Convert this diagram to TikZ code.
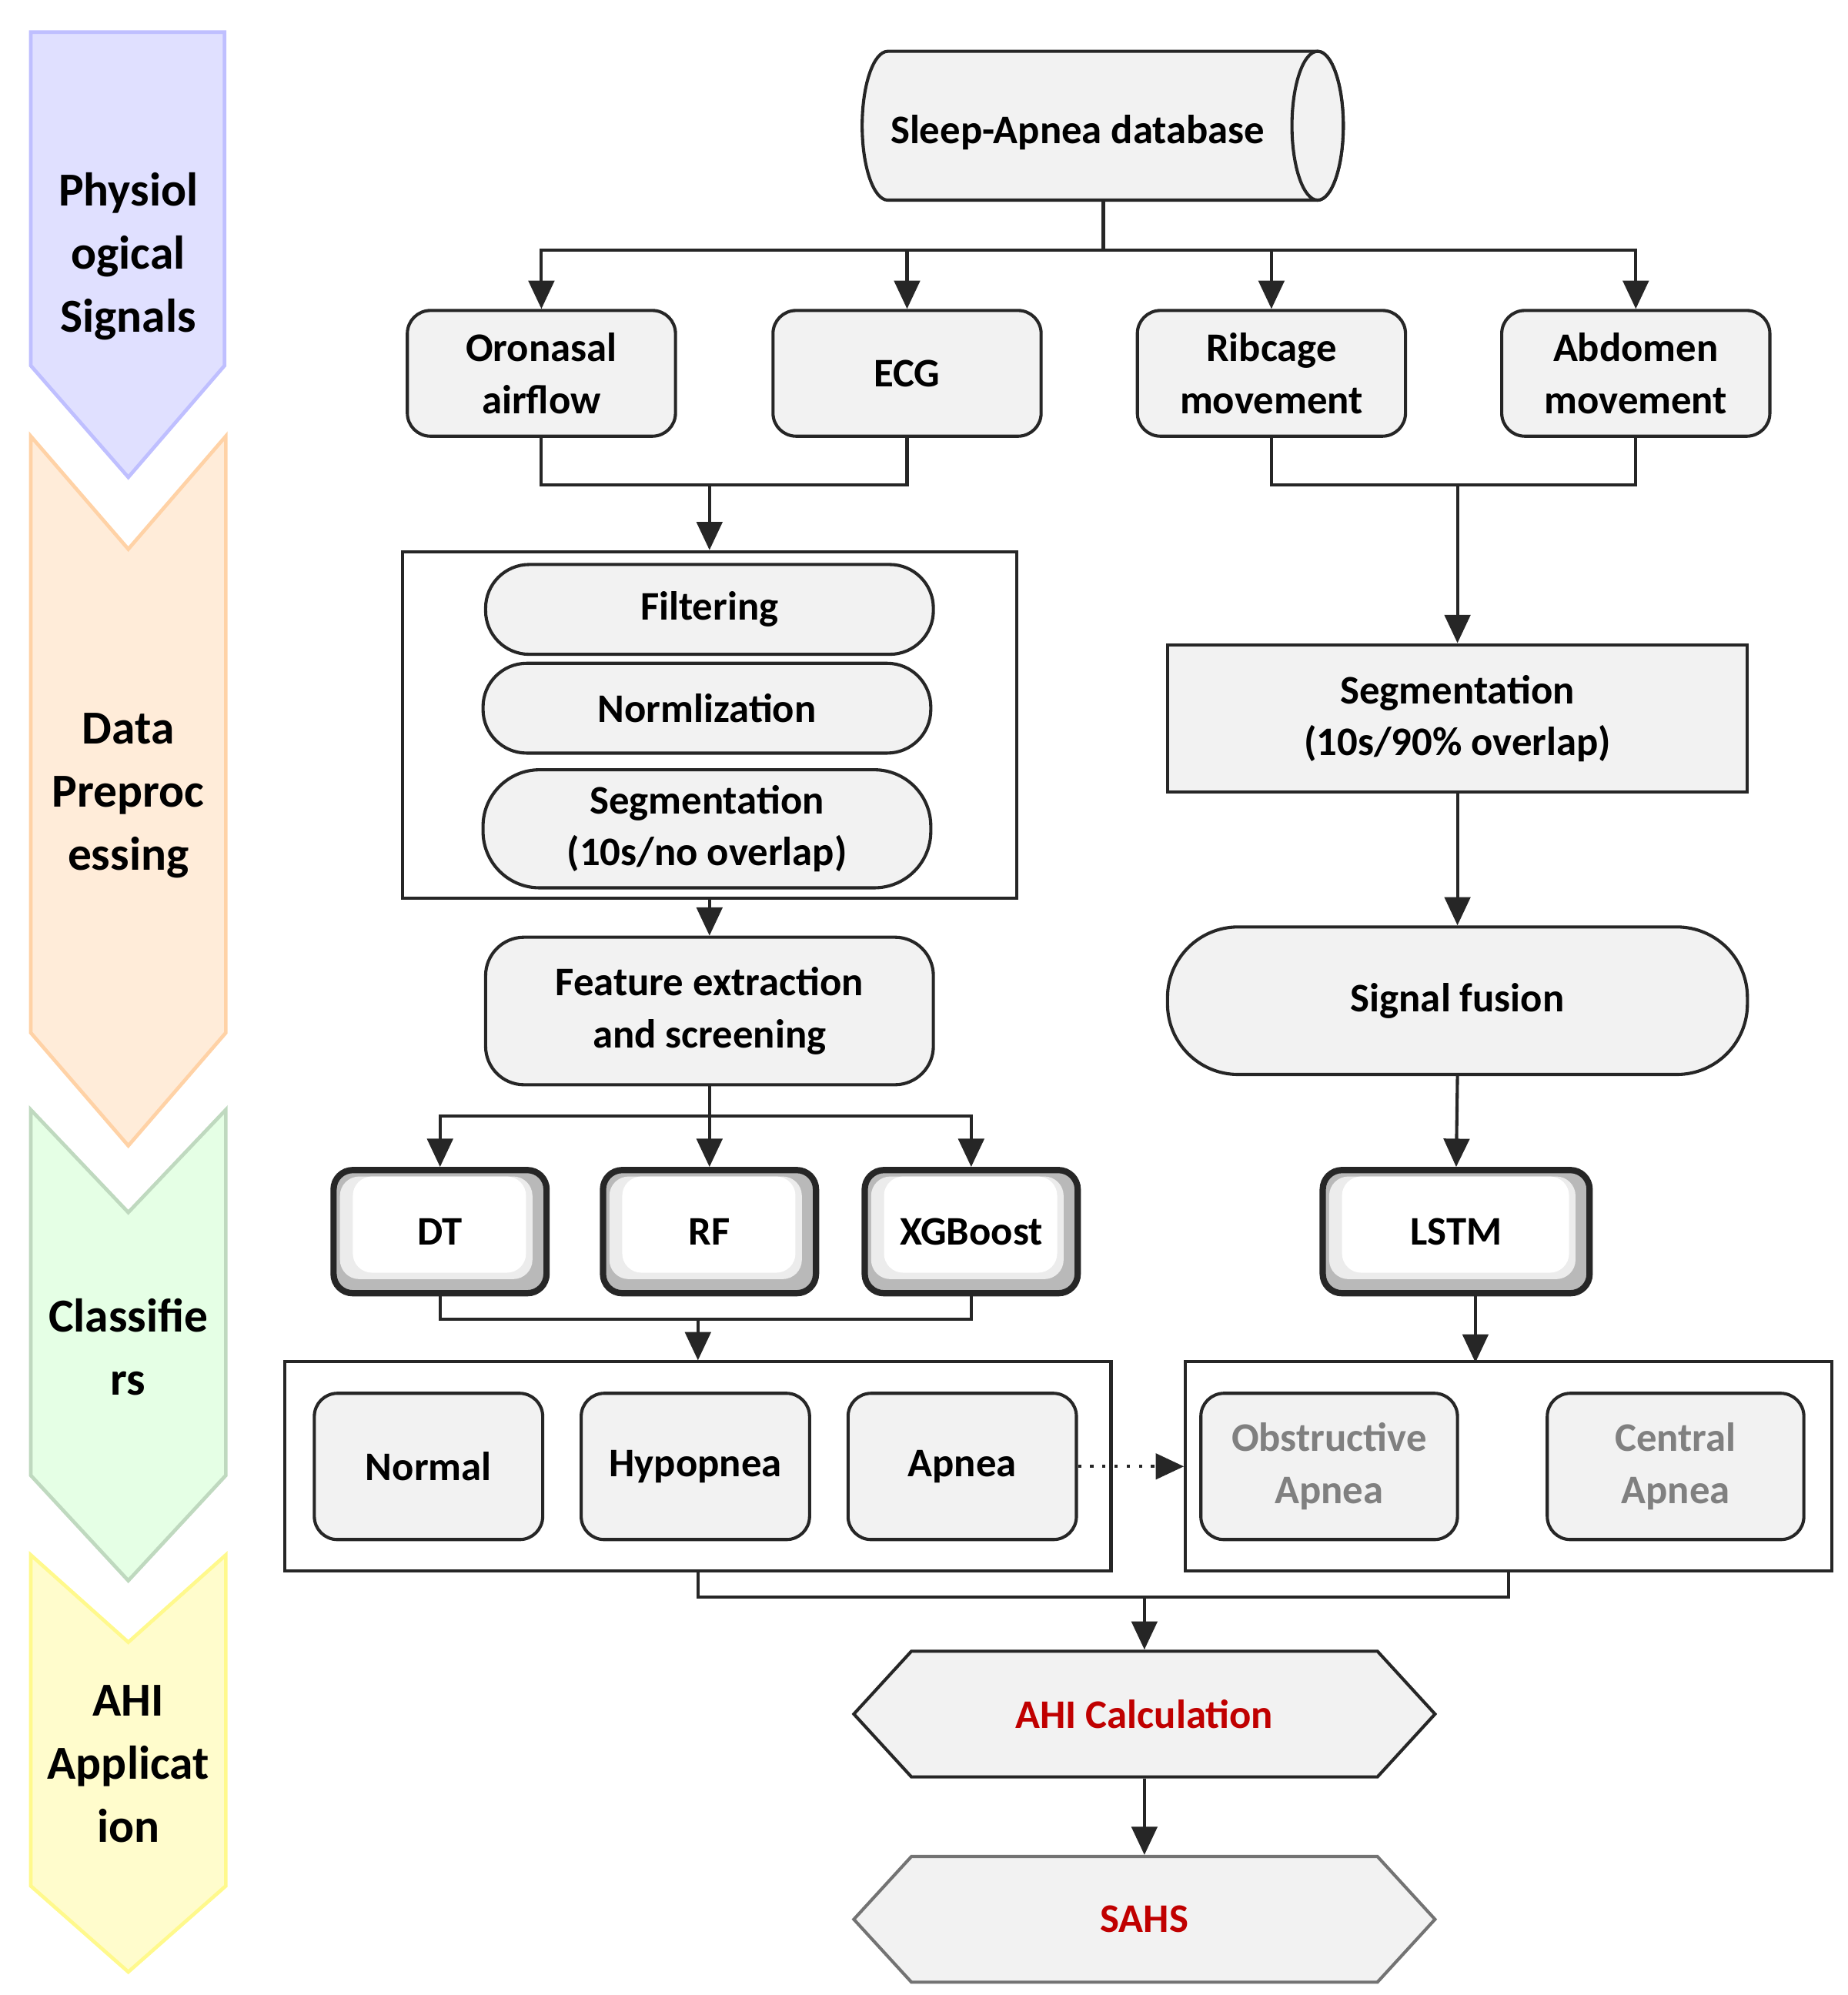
\documentclass[tikz,border=0pt]{standalone}
\usepackage{fontspec}
\setmainfont{Carlito}
\usetikzlibrary{shapes.symbols,arrows.meta}
\definecolor{boxfill}{HTML}{F2F2F2}
\definecolor{ahired}{HTML}{C00000}
\tikzset{
  arr/.style={-{Triangle[length=2.2mm,width=2mm]}},
  line/.style={line width=0.7pt, draw=black!85},
  box/.style={line, fill=boxfill, rounded corners=1.8mm, align=center, font=\fontsize{9}{11.5}\selectfont\bfseries, minimum width=209*0.1mm, minimum height=98*0.1mm},
  pill/.style={box, rounded corners=3.4mm, minimum width=349*0.1mm, minimum height=70*0.1mm},
  bevel/.style={line, line width=1.4pt, rounded corners=1.5mm, font=\fontsize{9}{11.5}\selectfont\bfseries, minimum width=166*0.1mm, minimum height=96*0.1mm,
    path picture={\fill[gray!55] (path picture bounding box.south west) rectangle (path picture bounding box.north east);
      \fill[gray!15] ([shift={(0.5mm,-0.5mm)}]path picture bounding box.north west) rectangle ([shift={(-1.1mm,1.1mm)}]path picture bounding box.south east);
      \fill[white] ([shift={(1.5mm,-0.5mm)}]path picture bounding box.north west) rectangle ([shift={(-1.6mm,1.6mm)}]path picture bounding box.south east);}},
  frame/.style={line, fill=white},
  hexa/.style={signal, signal to=west and east, signal pointer angle=95, line, fill=boxfill, minimum width=453*0.1mm, minimum height=98*0.1mm, font=\fontsize{9}{11.5}\selectfont\bfseries, text=ahired},
  stage/.style={font=\fontsize{10.5}{14}\selectfont\bfseries, align=center}
}
\begin{document}
\begin{tikzpicture}[x=0.1mm,y=-0.1mm]
\useasboundingbox (0,0) rectangle (1440,1555);
% stage arrows
\filldraw[fill=blue!12!white, draw=blue!25!white, line width=0.8pt] (24,25) -- (175,25) -- (175,285) -- (100,372) -- (24,285) -- cycle;
\filldraw[fill=orange!15!white, draw=orange!35!white, line width=0.8pt] (24,340) -- (100,428) -- (176,340) -- (176,805) -- (100,893) -- (24,805) -- cycle;
\filldraw[fill=green!10!white, draw=green!25!gray!40, line width=0.8pt] (24,865) -- (100,945) -- (176,865) -- (176,1150) -- (100,1232) -- (24,1150) -- cycle;
\filldraw[fill=yellow!20!white, draw=yellow!45!white, line width=0.8pt] (24,1212) -- (100,1280) -- (176,1212) -- (176,1470) -- (100,1537) -- (24,1470) -- cycle;
\node[stage] (s1) at (100,200) {Physiol\\ogical\\Signals};
\node[stage] (s2) at (100,620) {Data\\Preproc\\essing};
\node[stage] (s3) at (100,1050) {Classifie\\rs};
\node[stage] (s4) at (100,1375) {AHI\\Applicat\\ion};
% database
\filldraw[line, fill=boxfill] (1027,40) -- (692,40) arc[start angle=-90, end angle=-270, x radius=20, y radius=58] -- (1027,156) arc[start angle=90, end angle=-90, x radius=20, y radius=58];
\filldraw[line, fill=boxfill] (1027,98) ellipse[x radius=20, y radius=58];
\coordinate (dbs) at (860,156);
\node[font=\fontsize{9}{11.5}\selectfont\bfseries] (db) at (840,103) {Sleep-Apnea database};
% signals
\node[box] (oro) at (422,291) {Oronasal\\airflow};
\node[box] (ecg) at (707,291) {ECG};
\node[box] (rib) at (991,291) {Ribcage\\movement};
\node[box] (abd) at (1275,291) {Abdomen\\movement};
\draw[line] (dbs) -- (dbs |- 0,195) coordinate (j1);
\foreach \n in {oro,ecg,rib,abd} \draw[line,arr] (j1) -| (\n);
% left preprocessing
\node[frame, minimum width=479*0.1mm, minimum height=270*0.1mm] (pre) at (553,565) {};
\node[pill] (filt) at (553,475) {Filtering};
\node[pill] (norm) at (551,552) {Normlization};
\node[pill, minimum height=92*0.1mm, rounded corners=4.4mm] (segl) at (551,646) {Segmentation\\(10s/no overlap)};
\draw[line] (oro.south) -- (oro.south |- 0,378) -| (ecg.south);
\draw[line,arr] (553,378) coordinate (j2) -- (pre.north);
\node[box, rounded corners=3mm, minimum width=349*0.1mm, minimum height=115*0.1mm] (feat) at (553,788) {Feature extraction\\and screening};
\draw[line,arr] (pre.south) -- (feat.north);
% classifiers
\node[bevel] (dt) at (343,960) {DT};
\node[bevel] (rf) at (553,960) {RF};
\node[bevel] (xgb) at (757,960) {XGBoost};
\draw[line] (feat.south) -- (feat.south |- 0,870) coordinate (j3);
\foreach \n in {dt,rf,xgb} \draw[line,arr] (j3) -| (\n);
\node[frame, minimum width=644*0.1mm, minimum height=163*0.1mm] (outl) at (544,1143) {};
\node[box, minimum width=178*0.1mm, minimum height=114*0.1mm] (nor) at (334,1143) {Normal};
\node[box, minimum width=178*0.1mm, minimum height=114*0.1mm] (hyp) at (542,1143) {Hypopnea};
\node[box, minimum width=178*0.1mm, minimum height=114*0.1mm] (apn) at (750,1143) {Apnea};
\draw[line] (dt.south) -- (dt.south |- 0,1028) -| (xgb.south);
\draw[line,arr] (544,1028) coordinate (j4) -- (outl.north);
% right branch
\draw[line] (rib.south) -- (rib.south |- 0,378) -| (abd.south);
\node[box, rounded corners=0, minimum width=452*0.1mm, minimum height=115*0.1mm] (segr) at (1136,560) {Segmentation\\(10s/90\% overlap)};
\draw[line,arr] (1136,378) coordinate (j5) -- (segr.north);
\node[box, rounded corners=5.5mm, minimum width=452*0.1mm, minimum height=115*0.1mm] (fus) at (1136,780) {Signal fusion};
\draw[line,arr] (segr.south) -- (fus.north);
\node[bevel, minimum width=208*0.1mm] (lstm) at (1135,960) {LSTM};
\draw[line,arr] (fus.south) -- (lstm.north);
\node[frame, minimum width=504*0.1mm, minimum height=163*0.1mm] (outr) at (1176,1143) {};
\node[box, minimum width=200*0.1mm, minimum height=114*0.1mm, text=gray] (obs) at (1036,1143) {Obstructive\\Apnea};
\node[box, minimum width=200*0.1mm, minimum height=114*0.1mm, text=gray] (cen) at (1306,1143) {Central\\Apnea};
\draw[line,arr] (1150,1008) coordinate (j6) -- (1150,1062);
\draw[line,arr,dotted] (apn.east) -- (outr.west);
% AHI
\draw[line] (outl.south) -- (outl.south |- 0,1245) -| (outr.south);
\node[hexa] (ahi) at (892,1336) {AHI Calculation};
\node[hexa, draw=black!55] (sahs) at (892,1496) {SAHS};
\draw[line,arr] (892,1245) coordinate (j7) -- (ahi.north);
\draw[line,arr] (ahi.south) -- (sahs.north);
\end{tikzpicture}
\end{document}
